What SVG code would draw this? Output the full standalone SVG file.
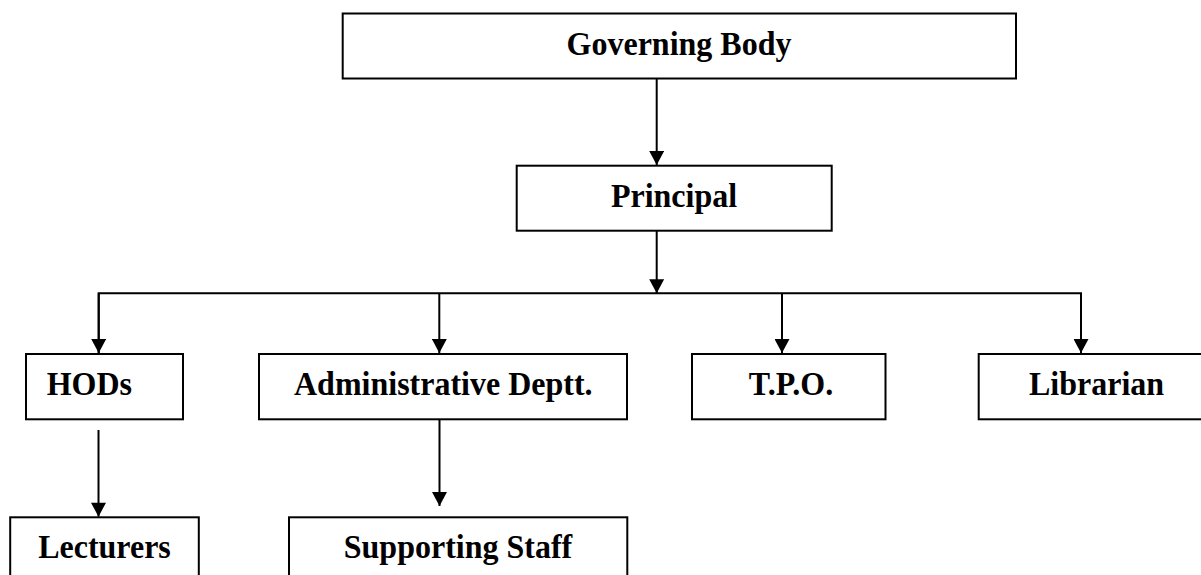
<svg xmlns="http://www.w3.org/2000/svg" width="1201" height="575" viewBox="0 0 1201 575">
<style>
.box{fill:#fff;stroke:#000;stroke-width:2}
.lbl{font-family:"Liberation Serif","Times New Roman",serif;font-weight:bold;font-size:32px;fill:#000}
.c{text-anchor:middle}
.conn{stroke:#000;stroke-width:2;fill:none}
</style>
<defs>
<marker id="ah" markerUnits="userSpaceOnUse" markerWidth="16" markerHeight="15" refX="15" refY="8" orient="auto" viewBox="0 0 15 16">
<path d="M0,0 L15,8 L0,16 z" fill="#000"/>
</marker>
</defs>
<rect width="1201" height="575" fill="#fff"/>
<g id="connectors">
<line class="conn" x1="656.7" y1="78.5" x2="656.7" y2="165" marker-end="url(#ah)"/>
<line class="conn" x1="656.7" y1="230.7" x2="656.7" y2="293.3" marker-end="url(#ah)"/>
<polyline class="conn" points="98.7,353 98.7,293.3 1081,293.3 1081,353"/>
<line class="conn" x1="98.7" y1="293.3" x2="98.7" y2="353" marker-end="url(#ah)"/>
<line class="conn" x1="439.3" y1="293.3" x2="439.3" y2="353" marker-end="url(#ah)"/>
<line class="conn" x1="782" y1="293.3" x2="782" y2="353" marker-end="url(#ah)"/>
<line class="conn" x1="1081" y1="293.3" x2="1081" y2="353" marker-end="url(#ah)"/>
<line class="conn" x1="98.5" y1="430" x2="98.5" y2="516.7" marker-end="url(#ah)"/>
<line class="conn" x1="439.5" y1="419.3" x2="439.5" y2="506" marker-end="url(#ah)"/>
</g>
<g id="governing-body">
<rect class="box" x="342.7" y="13.5" width="673.3" height="65"/>
<text class="lbl c" x="679" y="55" transform="matrix(1 0 0 1.08 0 -4.4)">Governing Body</text>
</g>
<g id="principal">
<rect class="box" x="516.7" y="165.7" width="315" height="65"/>
<text class="lbl c" x="674" y="207" transform="matrix(1 0 0 1.08 0 -16.56)">Principal</text>
</g>
<g id="hods">
<rect class="box" x="26" y="354" width="157" height="65.3"/>
<text class="lbl" x="46.7" y="395" transform="matrix(1 0 0 1.08 0 -31.6)">HODs</text>
</g>
<g id="admin">
<rect class="box" x="259" y="354" width="368" height="65.3"/>
<text class="lbl c" x="443.3" y="395" transform="matrix(1 0 0 1.08 0 -31.6)">Administrative Deptt.</text>
</g>
<g id="tpo">
<rect class="box" x="692" y="354" width="193.5" height="65.3"/>
<text class="lbl c" x="791" y="395" transform="matrix(1 0 0 1.08 0 -31.6)">T.P.O.</text>
</g>
<g id="librarian">
<rect class="box" x="978.7" y="354" width="240" height="65.3"/>
<text class="lbl" x="1029" y="395" transform="matrix(1 0 0 1.08 0 -31.6)">Librarian</text>
</g>
<g id="lecturers">
<rect class="box" x="10.2" y="517.3" width="188.6" height="80"/>
<text class="lbl c" x="104.5" y="558" transform="matrix(1 0 0 1.08 0 -44.64)">Lecturers</text>
</g>
<g id="supporting-staff">
<rect class="box" x="289" y="517.3" width="338.3" height="80"/>
<text class="lbl c" x="458" y="558" transform="matrix(1 0 0 1.08 0 -44.64)">Supporting Staff</text>
</g>
</svg>
